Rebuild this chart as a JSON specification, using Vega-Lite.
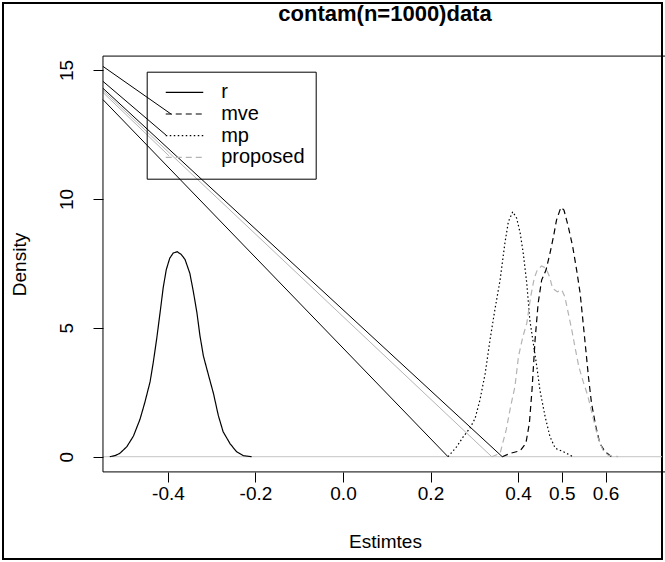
{
  "$schema": "https://vega.github.io/schema/vega-lite/v6.json",
  "width": 659,
  "height": 556,
  "autosize": {"type": "none"},
  "padding": {"left": 3, "top": 3, "right": 3, "bottom": 3},
  "background": "white",
  "title": {
    "text": "contam(n=1000)data",
    "font": "Liberation Sans",
    "fontSize": 22,
    "fontWeight": "bold",
    "color": "black",
    "anchor": "middle",
    "frame": "group",
    "orient": "top",
    "offset": 0,
    "baseline": "alphabetic",
    "dx": 52.5,
    "dy": 40
  },
  "config": {
    "view": {"stroke": "black", "strokeWidth": 2},
    "font": "Liberation Sans"
  },
  "datasets": {
    "curves": [
      {"series": "r", "x": -0.533, "y": 0},
      {"series": "r", "x": -0.52, "y": 0.05},
      {"series": "r", "x": -0.51, "y": 0.13},
      {"series": "r", "x": -0.494, "y": 0.39},
      {"series": "r", "x": -0.479, "y": 0.8},
      {"series": "r", "x": -0.464, "y": 1.45},
      {"series": "r", "x": -0.453, "y": 2.1},
      {"series": "r", "x": -0.441, "y": 2.9},
      {"series": "r", "x": -0.434, "y": 3.62},
      {"series": "r", "x": -0.426, "y": 4.55},
      {"series": "r", "x": -0.418, "y": 5.6},
      {"series": "r", "x": -0.411, "y": 6.55},
      {"series": "r", "x": -0.404, "y": 7.25},
      {"series": "r", "x": -0.396, "y": 7.7},
      {"series": "r", "x": -0.388, "y": 7.9},
      {"series": "r", "x": -0.379, "y": 7.95},
      {"series": "r", "x": -0.37, "y": 7.85},
      {"series": "r", "x": -0.361, "y": 7.65},
      {"series": "r", "x": -0.35, "y": 7.11},
      {"series": "r", "x": -0.342, "y": 6.4},
      {"series": "r", "x": -0.334, "y": 5.6},
      {"series": "r", "x": -0.327, "y": 4.7},
      {"series": "r", "x": -0.319, "y": 3.9},
      {"series": "r", "x": -0.308, "y": 3.2},
      {"series": "r", "x": -0.296, "y": 2.45},
      {"series": "r", "x": -0.285, "y": 1.6},
      {"series": "r", "x": -0.274, "y": 0.97},
      {"series": "r", "x": -0.258, "y": 0.5},
      {"series": "r", "x": -0.243, "y": 0.19},
      {"series": "r", "x": -0.228, "y": 0.04},
      {"series": "r", "x": -0.209, "y": 0},
      {"series": "mve", "x": 0.364, "y": 0},
      {"series": "mve", "x": 0.382, "y": 0.13},
      {"series": "mve", "x": 0.405, "y": 0.23},
      {"series": "mve", "x": 0.418, "y": 0.52},
      {"series": "mve", "x": 0.426, "y": 1.3},
      {"series": "mve", "x": 0.432, "y": 2.59},
      {"series": "mve", "x": 0.439, "y": 4.53},
      {"series": "mve", "x": 0.446, "y": 5.95},
      {"series": "mve", "x": 0.454, "y": 6.85},
      {"series": "mve", "x": 0.464, "y": 7.24},
      {"series": "mve", "x": 0.473, "y": 7.89},
      {"series": "mve", "x": 0.481, "y": 8.53},
      {"series": "mve", "x": 0.488, "y": 9.18},
      {"series": "mve", "x": 0.498, "y": 9.67},
      {"series": "mve", "x": 0.505, "y": 9.57},
      {"series": "mve", "x": 0.515, "y": 8.92},
      {"series": "mve", "x": 0.525, "y": 8.15},
      {"series": "mve", "x": 0.534, "y": 7.24},
      {"series": "mve", "x": 0.542, "y": 6.34},
      {"series": "mve", "x": 0.549, "y": 5.17},
      {"series": "mve", "x": 0.555, "y": 4.14},
      {"series": "mve", "x": 0.561, "y": 3.1},
      {"series": "mve", "x": 0.568, "y": 2.07},
      {"series": "mve", "x": 0.578, "y": 1.16},
      {"series": "mve", "x": 0.587, "y": 0.52},
      {"series": "mve", "x": 0.599, "y": 0.19},
      {"series": "mve", "x": 0.614, "y": 0},
      {"series": "mp", "x": 0.24, "y": 0},
      {"series": "mp", "x": 0.26, "y": 0.39},
      {"series": "mp", "x": 0.275, "y": 0.78},
      {"series": "mp", "x": 0.29, "y": 1.1},
      {"series": "mp", "x": 0.302, "y": 1.49},
      {"series": "mp", "x": 0.313, "y": 2.2},
      {"series": "mp", "x": 0.325, "y": 3.23},
      {"series": "mp", "x": 0.336, "y": 4.53},
      {"series": "mp", "x": 0.347, "y": 5.69},
      {"series": "mp", "x": 0.359, "y": 6.85},
      {"series": "mp", "x": 0.37, "y": 8.28},
      {"series": "mp", "x": 0.378, "y": 9.12},
      {"series": "mp", "x": 0.388, "y": 9.5},
      {"series": "mp", "x": 0.397, "y": 9.25},
      {"series": "mp", "x": 0.405, "y": 8.67},
      {"series": "mp", "x": 0.412, "y": 7.89},
      {"series": "mp", "x": 0.42, "y": 6.73},
      {"series": "mp", "x": 0.427, "y": 5.3},
      {"series": "mp", "x": 0.435, "y": 4.4},
      {"series": "mp", "x": 0.443, "y": 3.49},
      {"series": "mp", "x": 0.45, "y": 2.59},
      {"series": "mp", "x": 0.462, "y": 1.55},
      {"series": "mp", "x": 0.473, "y": 0.78},
      {"series": "mp", "x": 0.485, "y": 0.33},
      {"series": "mp", "x": 0.504, "y": 0.19},
      {"series": "mp", "x": 0.526, "y": 0},
      {"series": "proposed", "x": 0.34, "y": 0},
      {"series": "proposed", "x": 0.359, "y": 0.13},
      {"series": "proposed", "x": 0.373, "y": 1.04},
      {"series": "proposed", "x": 0.383, "y": 1.94},
      {"series": "proposed", "x": 0.393, "y": 2.72},
      {"series": "proposed", "x": 0.401, "y": 3.88},
      {"series": "proposed", "x": 0.411, "y": 4.65},
      {"series": "proposed", "x": 0.42, "y": 5.17},
      {"series": "proposed", "x": 0.429, "y": 6.21},
      {"series": "proposed", "x": 0.437, "y": 6.92},
      {"series": "proposed", "x": 0.444, "y": 7.24},
      {"series": "proposed", "x": 0.454, "y": 7.4},
      {"series": "proposed", "x": 0.464, "y": 7.31},
      {"series": "proposed", "x": 0.472, "y": 6.98},
      {"series": "proposed", "x": 0.479, "y": 6.53},
      {"series": "proposed", "x": 0.49, "y": 6.4},
      {"series": "proposed", "x": 0.5, "y": 6.47},
      {"series": "proposed", "x": 0.507, "y": 6.21},
      {"series": "proposed", "x": 0.515, "y": 5.56},
      {"series": "proposed", "x": 0.523, "y": 4.91},
      {"series": "proposed", "x": 0.53, "y": 4.27},
      {"series": "proposed", "x": 0.539, "y": 3.49},
      {"series": "proposed", "x": 0.549, "y": 2.91},
      {"series": "proposed", "x": 0.559, "y": 2.39},
      {"series": "proposed", "x": 0.571, "y": 1.55},
      {"series": "proposed", "x": 0.582, "y": 0.78},
      {"series": "proposed", "x": 0.594, "y": 0.26},
      {"series": "proposed", "x": 0.606, "y": 0.06},
      {"series": "proposed", "x": 0.629, "y": 0}
    ],
    "links": [
      {"series": "mp", "target": "curve", "x0": -0.5486, "y0": 13.85, "x1": 0.24, "y1": 0},
      {"series": "mve", "target": "curve", "x0": -0.5486, "y0": 14.29, "x1": 0.364, "y1": 0},
      {"series": "proposed", "target": "curve", "x0": -0.5486, "y0": 14.21, "x1": 0.34, "y1": 0},
      {"series": "mve", "target": "key", "x0": -0.5486, "y0": 15.14, "x1": -0.392, "y1": 13.28},
      {"series": "mp", "target": "key", "x0": -0.5486, "y0": 14.56, "x1": -0.4035, "y1": 12.46},
      {"series": "proposed", "target": "key", "x0": -0.5486, "y0": 14.13, "x1": -0.3977, "y1": 11.67}
    ]
  },
  "layer": [
    {
      "data": {"values": [{}]},
      "mark": {"type": "rule", "color": "#c4c4c4", "strokeWidth": 1},
      "encoding": {
        "x": {"datum": -0.5486, "type": "quantitative", "scale": {"domain": [-0.7771, 0.7291], "nice": false, "zero": false}},
        "x2": {"datum": 0.7291},
        "y": {"datum": 0, "type": "quantitative", "scale": {"domain": [-3.968, 17.599], "nice": false, "zero": false}}
      }
    },
    {
      "data": {"name": "links"},
      "transform": [{"filter": "datum.series != 'proposed'"}],
      "mark": {"type": "rule", "color": "black", "strokeWidth": 1},
      "encoding": {
        "x": {"field": "x0", "type": "quantitative"},
        "y": {"field": "y0", "type": "quantitative"},
        "x2": {"field": "x1"},
        "y2": {"field": "y1"}
      }
    },
    {
      "data": {"name": "links"},
      "transform": [{"filter": "datum.series == 'proposed'"}],
      "mark": {"type": "rule", "color": "#b4b4b4", "strokeWidth": 1},
      "encoding": {
        "x": {"field": "x0", "type": "quantitative"},
        "y": {"field": "y0", "type": "quantitative"},
        "x2": {"field": "x1"},
        "y2": {"field": "y1"}
      }
    },
    {
      "data": {"name": "curves"},
      "mark": {"type": "line", "strokeWidth": 1.2},
      "encoding": {
        "x": {
          "field": "x",
          "type": "quantitative",
          "axis": {
            "orient": "bottom",
            "offset": -87,
            "values": [-0.4, -0.2, 0, 0.2, 0.4, 0.5, 0.6],
            "labelExpr": "replace(format(datum.value, '.1f'), '\u2212', '-')",
            "domain": false,
            "grid": false,
            "ticks": true,
            "tickSize": 10,
            "tickColor": "black",
            "tickWidth": 1,
            "labelFont": "Liberation Sans",
            "labelFontSize": 19,
            "labelColor": "black",
            "labelPadding": 2,
            "labelBaseline": "top",
            "labelAlign": "center",
            "labelFlush": false,
            "labelOverlap": false,
            "title": "Estimtes",
            "titleFont": "Liberation Sans",
            "titleFontSize": 19,
            "titleFontWeight": "normal",
            "titleColor": "black",
            "titleX": 382,
            "titleY": 75,
            "titleAlign": "center",
            "titleBaseline": "alphabetic"
          }
        },
        "y": {
          "field": "y",
          "type": "quantitative",
          "axis": {
            "orient": "left",
            "offset": -100,
            "values": [0, 5, 10, 15],
            "domain": false,
            "grid": false,
            "ticks": true,
            "tickSize": 10,
            "tickColor": "black",
            "tickWidth": 1,
            "labelFont": "Liberation Sans",
            "labelFontSize": 19,
            "labelColor": "black",
            "labelAngle": 270,
            "labelAlign": "center",
            "labelBaseline": "alphabetic",
            "labelPadding": 21,
            "labelOverlap": false,
            "title": "Density",
            "titleFont": "Liberation Sans",
            "titleFontSize": 19,
            "titleFontWeight": "normal",
            "titleColor": "black",
            "titleAngle": 270,
            "titleX": -78,
            "titleY": 261,
            "titleAlign": "center",
            "titleBaseline": "alphabetic"
          }
        },
        "color": {
          "field": "series",
          "type": "nominal",
          "scale": {"domain": ["r", "mve", "mp", "proposed"], "range": ["#000000", "#000000", "#000000", "#b4b4b4"]},
          "legend": {
            "title": null,
            "orient": "none",
            "legendX": 143.7,
            "legendY": 68.7,
            "direction": "vertical",
            "strokeColor": "black",
            "padding": 10.6,
            "symbolType": "M-2.5,0H2.5",
            "symbolSize": 225,
            "symbolStrokeWidth": 1.2,
            "symbolOffset": 17.2,
            "labelOffset": 26.7,
            "labelFont": "Liberation Sans",
            "labelFontSize": 20,
            "labelColor": "black",
            "labelLimit": 300,
            "rowPadding": 1.7
          }
        },
        "strokeDash": {
          "field": "series",
          "type": "nominal",
          "scale": {"domain": ["r", "mve", "mp", "proposed"], "range": [[1, 0], [6, 4], [1.5, 2.5], [6, 4]]},
          "legend": {
            "title": null,
            "orient": "none",
            "legendX": 143.7,
            "legendY": 68.7,
            "direction": "vertical",
            "strokeColor": "black",
            "padding": 10.6,
            "symbolType": "M-2.5,0H2.5",
            "symbolSize": 225,
            "symbolStrokeWidth": 1.2,
            "symbolOffset": 17.2,
            "labelOffset": 26.7,
            "labelFont": "Liberation Sans",
            "labelFontSize": 20,
            "labelColor": "black",
            "labelLimit": 300,
            "rowPadding": 1.7
          }
        }
      }
    },
    {
      "data": {"values": [{}]},
      "mark": {"type": "rect", "fillOpacity": 0, "stroke": "black", "strokeWidth": 1},
      "encoding": {
        "x": {"datum": -0.5486, "type": "quantitative"},
        "x2": {"datum": 0.76},
        "y": {"datum": -0.59, "type": "quantitative"},
        "y2": {"datum": 15.54}
      }
    }
  ]
}
